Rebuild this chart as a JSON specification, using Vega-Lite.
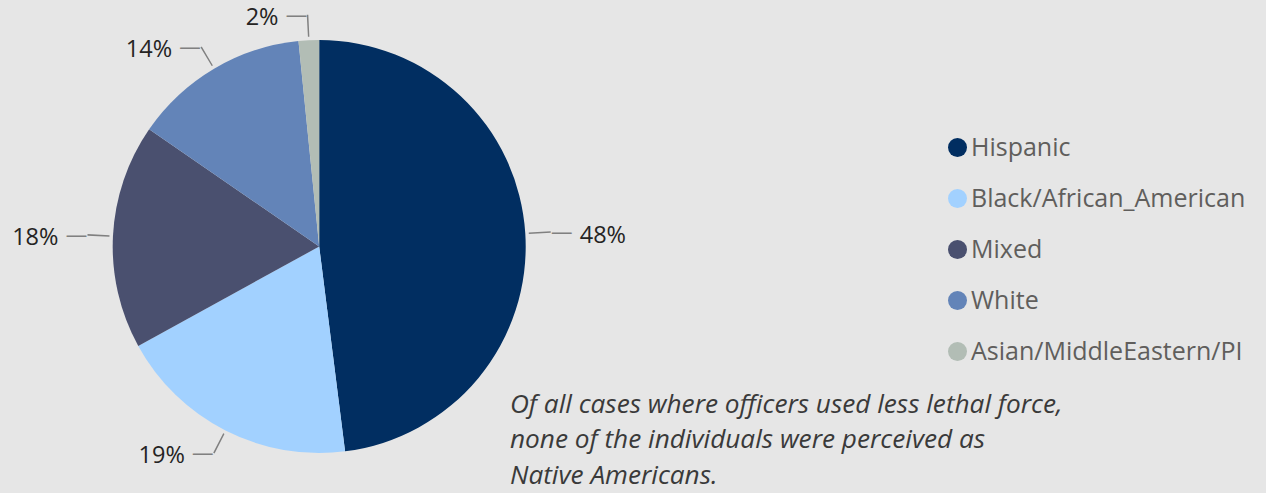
{
  "$schema": "https://vega.github.io/schema/vega-lite/v6.json",
  "width": 638.4,
  "height": 493,
  "autosize": {"type": "none"},
  "padding": {"left": 0, "top": 0, "right": 627.6, "bottom": 0},
  "background": "#e6e6e6",
  "view": {"stroke": null},
  "title": {
    "text": ["Of all cases where officers used less lethal force,", "none of the individuals were perceived as", "Native Americans."],
    "orient": "bottom",
    "anchor": "start",
    "frame": "group",
    "baseline": "top",
    "offset": 0,
    "dx": 510,
    "dy": -101,
    "font": "Open Sans",
    "fontSize": 26.2,
    "fontStyle": "italic",
    "fontWeight": "normal",
    "lineHeight": 35.3,
    "color": "#3a3a3a"
  },
  "data": {
    "values": [
      {"race": "Hispanic", "value": 48.0},
      {"race": "Black/African_American", "value": 19.0},
      {"race": "Mixed", "value": 17.6},
      {"race": "White", "value": 13.8},
      {"race": "Asian/MiddleEastern/PI", "value": 1.6}
    ]
  },
  "transform": [
    {"joinaggregate": [{"op": "sum", "field": "value", "as": "total"}]},
    {"window": [{"op": "sum", "field": "value", "as": "cum"}], "frame": [null, 0]},
    {"calculate": "2*PI*datum.cum/datum.total", "as": "t1"},
    {"calculate": "datum.t1 - 2*PI*datum.value/datum.total", "as": "t0"},
    {"calculate": "(datum.t0 + datum.t1)/2", "as": "mid"},
    {"calculate": "datum.mid - 0.0034", "as": "l0"},
    {"calculate": "datum.mid + 0.0034", "as": "l1"},
    {"calculate": "format(datum.value/datum.total, '.0%')", "as": "pct"}
  ],
  "layer": [
    {
      "mark": {"type": "arc", "radius": 206.5, "stroke": null},
      "encoding": {
        "theta": {"field": "t0", "type": "quantitative", "scale": null},
        "theta2": {"field": "t1"},
        "color": {
          "field": "race",
          "type": "nominal",
          "scale": {
            "domain": ["Hispanic", "Black/African_American", "Mixed", "White", "Asian/MiddleEastern/PI"],
            "range": ["#012e61", "#a2d1ff", "#4a506f", "#6384b8", "#b2bdb5"]
          },
          "legend": {
            "title": null,
            "orient": "none",
            "legendX": 945,
            "legendY": 135,
            "symbolType": "circle",
            "symbolSize": 361,
            "symbolStrokeWidth": 0,
            "labelFont": "Open Sans",
            "labelFontSize": 25,
            "labelColor": "#605e5c",
            "labelOffset": 1,
            "rowPadding": 25,
            "labelLimit": 400,
            "padding": 0
          }
        }
      }
    },
    {
      "mark": {"type": "arc", "radius": 232, "radius2": 210, "color": "#808080", "stroke": null},
      "encoding": {
        "theta": {"field": "l0", "type": "quantitative", "scale": null},
        "theta2": {"field": "l1"}
      }
    },
    {
      "transform": [{"filter": "datum.mid < PI"}],
      "mark": {"type": "text", "text": "—", "radius": 232, "dx": 11, "align": "center", "baseline": "middle", "font": "DejaVu Sans", "fontSize": 22, "color": "#808080"},
      "encoding": {
        "theta": {"field": "mid", "type": "quantitative", "scale": null}
      }
    },
    {
      "transform": [{"filter": "datum.mid >= PI"}],
      "mark": {"type": "text", "text": "—", "radius": 232, "dx": -11, "align": "center", "baseline": "middle", "font": "DejaVu Sans", "fontSize": 22, "color": "#808080"},
      "encoding": {
        "theta": {"field": "mid", "type": "quantitative", "scale": null}
      }
    },
    {
      "transform": [{"filter": "datum.mid < PI"}],
      "mark": {"type": "text", "radius": 232, "dx": 29, "dy": 4, "align": "left", "baseline": "middle", "font": "Open Sans", "fontSize": 23.5, "color": "#252423"},
      "encoding": {
        "theta": {"field": "mid", "type": "quantitative", "scale": null},
        "text": {"field": "pct", "type": "nominal"}
      }
    },
    {
      "transform": [{"filter": "datum.mid >= PI"}],
      "mark": {"type": "text", "radius": 232, "dx": -29, "dy": 3, "align": "right", "baseline": "middle", "font": "Open Sans", "fontSize": 23.5, "color": "#252423"},
      "encoding": {
        "theta": {"field": "mid", "type": "quantitative", "scale": null},
        "text": {"field": "pct", "type": "nominal"}
      }
    }
  ]
}
